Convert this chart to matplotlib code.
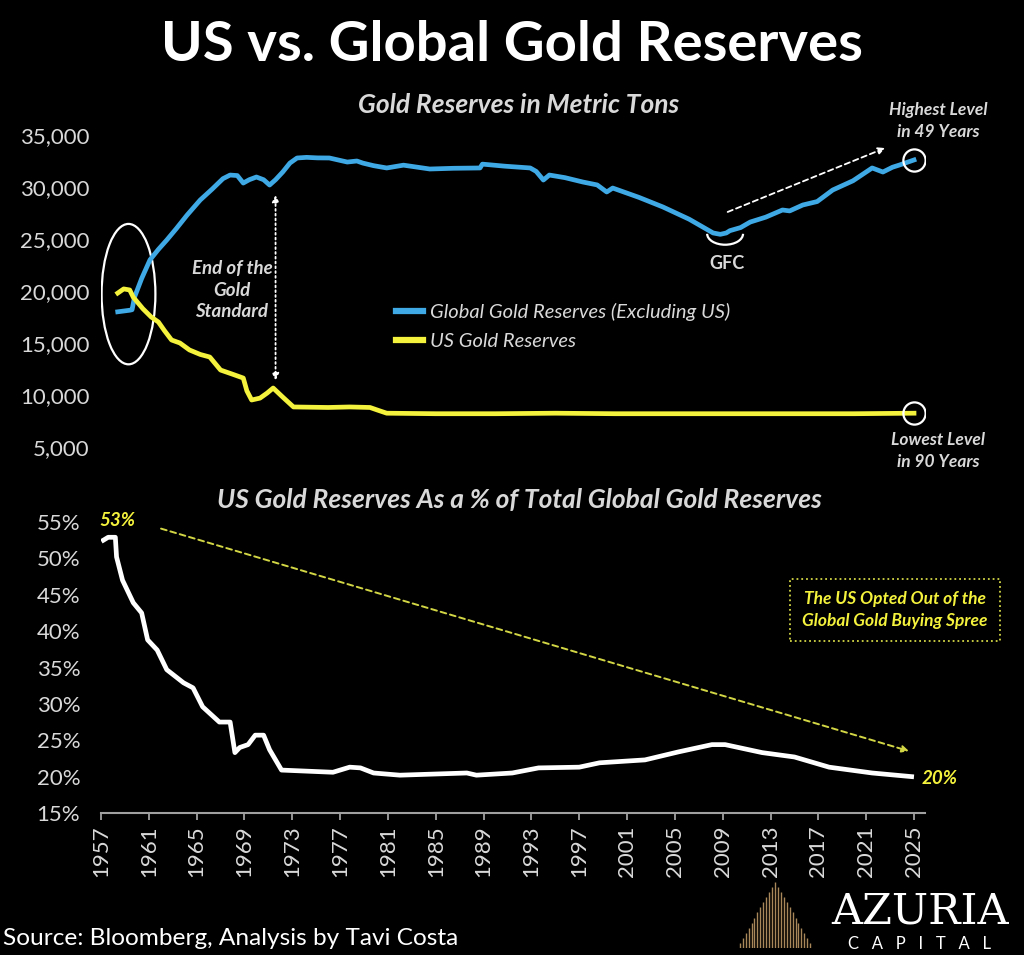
import matplotlib
matplotlib.use("Agg")
import matplotlib.pyplot as plt
from matplotlib.patches import Ellipse, Arc
from matplotlib.ticker import FuncFormatter
import numpy as np

# ---- data ----
global_years = [1958.4, 1959.4, 1959.6, 1959.8, 1960.4, 1961.1, 1961.8, 1962.5, 1963.3, 1964.2,
                1965.3, 1966.3, 1967.2, 1967.8, 1968.4, 1968.9, 1969.4, 1970.0, 1970.6, 1971.1,
                1971.6, 1972.2, 1972.8, 1973.4, 1974.2, 1975.1, 1976.1, 1977.6, 1978.4, 1978.9,
                1979.8, 1980.9, 1982.3, 1984.5, 1986.5, 1988.7, 1988.9, 1990.8, 1992.9, 1993.4,
                1994.0, 1994.5, 1995.8, 1997.3, 1998.5, 1999.3, 1999.8, 2002.0, 2004.0, 2006.2,
                2008.2, 2008.8, 2009.3, 2009.6, 2010.5, 2011.3, 2012.6, 2014.0, 2014.6, 2015.7,
                2016.9, 2018.2, 2019.9, 2021.5, 2022.4, 2023.2, 2023.8, 2025.0]
global_tons = [18000, 18150, 18200, 19400, 21200, 23000, 24000, 24900, 26000, 27300,
               28750, 29800, 30800, 31150, 31100, 30380, 30700, 30960, 30700, 30190,
               30700, 31440, 32300, 32790, 32850, 32800, 32790, 32400, 32500, 32300,
               32050, 31830, 32100, 31730, 31800, 31830, 32200, 32000, 31830, 31500,
               30670, 31150, 30900, 30480, 30200, 29520, 29900, 29000, 28080, 26900,
               25580, 25450, 25580, 25800, 26100, 26630, 27100, 27790, 27700, 28270,
               28600, 29710, 30600, 31830, 31440, 31900, 32120, 32600]

us_years = [1958.4, 1958.9, 1959.4, 1959.7, 1960.5, 1961.2, 1961.8, 1962.3, 1962.9, 1963.6,
            1964.4, 1965.3, 1966.1, 1967.0, 1968.0, 1968.9, 1969.2, 1969.6, 1970.3, 1970.9,
            1971.4, 1972.2, 1973.1, 1976.0, 1977.8, 1979.5, 1980.1, 1980.9, 1985.0, 1990.0,
            1995.0, 2000.0, 2005.0, 2010.0, 2015.0, 2020.0, 2025.0]
us_tons = [19800, 20200, 20100, 19400, 18300, 17500, 17020, 16200, 15290, 15000,
           14330, 13900, 13650, 12400, 12000, 11630, 10400, 9520, 9700, 10190,
           10670, 9800, 8850, 8800, 8850, 8800, 8560, 8250, 8200, 8200,
           8250, 8200, 8200, 8200, 8200, 8200, 8250]

share_years = [1957.2, 1957.6, 1958.2, 1958.3, 1958.8, 1959.7, 1960.4, 1960.9, 1961.7, 1962.5,
               1963.9, 1964.7, 1965.5, 1966.9, 1967.8, 1968.2, 1968.6, 1969.3, 1969.9, 1970.6,
               1971.1, 1972.1, 1976.4, 1977.8, 1978.7, 1979.8, 1982.0, 1987.6, 1988.4, 1991.4,
               1993.6, 1997.0, 1998.7, 2002.5, 2005.3, 2008.1, 2009.2, 2012.3, 2015.0, 2017.9,
               2021.5, 2024.8]
us_share = [52.5, 52.9, 52.9, 50.2, 47.0, 43.9, 42.5, 38.8, 37.4, 34.7,
            32.9, 32.2, 29.6, 27.5, 27.5, 23.3, 24.0, 24.4, 25.7, 25.7,
            23.7, 20.9, 20.6, 21.3, 21.2, 20.5, 20.2, 20.5, 20.2, 20.5,
            21.2, 21.3, 21.9, 22.3, 23.4, 24.4, 24.4, 23.3, 22.7, 21.3,
            20.5, 20.0]

year_ticks = list(range(1957, 2026, 4))
ton_ticks = [5000, 10000, 15000, 20000, 25000, 30000, 35000]
pct_ticks = [15, 20, 25, 30, 35, 40, 45, 50, 55]

BLUE = '#3fa9e5'
YELLOW = '#f4f23c'
OLIVE = '#d2d645'
GREY = '#d9d9d9'
FONT = 'Lato'

W, H = 1024, 955
def fx(px):
    return px / W
def fy(py):
    return 1 - py / H

fig = plt.figure(figsize=(10.24, 9.55), dpi=100, facecolor='black')

# ---- top panel ----
ax1 = fig.add_axes([fx(101), fy(447), fx(925) - fx(101), (447 - 135) / H])
ax1.set_facecolor('black')
ax1.plot(global_years, global_tons, color=BLUE, lw=3.4, solid_joinstyle='round',
         label='Global Gold Reserves (Excluding US)')
ax1.plot(us_years, us_tons, color=YELLOW, lw=3.4, solid_joinstyle='round',
         label='US Gold Reserves')
ax1.set_xlim(1957, 2025.92)
ax1.set_ylim(5000, 35000)
ax1.set_yticks(ton_ticks)
ax1.yaxis.set_major_formatter(FuncFormatter(lambda v, p: f'{v:,.0f}'))
ax1.set_xticks([])
for s in ax1.spines.values():
    s.set_visible(False)
ax1.tick_params(axis='y', length=0, pad=8, labelcolor=GREY, labelsize=16)
for t in ax1.get_yticklabels():
    t.set_fontfamily(FONT)

leg = ax1.legend(loc='upper left', bbox_to_anchor=(fx(378), fy(285)),
                 bbox_transform=fig.transFigure, frameon=False, handlelength=1.35,
                 handletextpad=0.35, labelspacing=0.6, labelcolor=GREY,
                 prop=dict(family=FONT, style='italic', size=14.5))
for line in leg.get_lines():
    line.set_linewidth(4.5)

# ellipse around the crossover
ax1.add_patch(Ellipse((1959.3, 19700), 4.5, 13500, fill=False, ec='white', lw=1.6))
# end-of-gold-standard arrow
ax1.annotate('', xy=(1971.6, 29500), xytext=(1971.6, 11150),
             arrowprops=dict(arrowstyle='<|-|>', color='white', lw=1.3, ls=':',
                             mutation_scale=10))
fig.text(fx(232), fy(290), 'End of the\nGold\nStandard', ha='center', va='center',
         color=GREY, family=FONT, style='italic', weight='bold', size=13.5,
         linespacing=1.3)
# GFC bracket and growth arrow
ax1.add_patch(Arc((2009.2, 25500), 3.0, 2100, theta1=200, theta2=340, color='white', lw=1.6))
fig.text(fx(727), fy(263), 'GFC', ha='center', va='center', color=GREY,
         family=FONT, weight='bold', size=13)
ax1.annotate('', xy=(2022.8, 33850), xytext=(2009.2, 27500),
             arrowprops=dict(arrowstyle='-|>', color='white', lw=1.3, ls=(0, (3, 2)),
                             mutation_scale=10))
ax1.plot(global_years[-1], global_tons[-1], 'o', ms=16, mfc='none', mec='white', mew=1.6)
ax1.plot(us_years[-1], us_tons[-1], 'o', ms=16, mfc='none', mec='white', mew=1.6)
fig.text(fx(938), fy(121), 'Highest Level\nin 49 Years', ha='center', va='center',
         color=GREY, family=FONT, style='italic', weight='bold', size=12.5,
         linespacing=1.45)
fig.text(fx(938), fy(451), 'Lowest Level\nin 90 Years', ha='center', va='center',
         color=GREY, family=FONT, style='italic', weight='bold', size=12.5,
         linespacing=1.45)

# ---- bottom panel ----
ax2 = fig.add_axes([fx(101), fy(813), fx(925) - fx(101), (813 - 522) / H])
ax2.set_facecolor('black')
ax2.plot(share_years, us_share, color='white', lw=3.4, solid_joinstyle='round')
ax2.set_xlim(1957, 2025.92)
ax2.set_ylim(15, 55)
ax2.set_yticks(pct_ticks)
ax2.set_yticklabels([f'{v}%' for v in pct_ticks])
ax2.set_xticks(year_ticks)
ax2.set_xticklabels([str(y) for y in year_ticks], rotation=90)
for name, s in ax2.spines.items():
    s.set_visible(name == 'bottom')
ax2.spines['bottom'].set_color('#a0a0a0')
ax2.spines['bottom'].set_linewidth(1.5)
ax2.tick_params(axis='y', length=0, pad=15, labelcolor=GREY, labelsize=16)
ax2.tick_params(axis='x', length=5, width=1.3, color='#a0a0a0', pad=4,
                labelcolor=GREY, labelsize=16)
for t in ax2.get_yticklabels() + ax2.get_xticklabels():
    t.set_fontfamily(FONT)

ax2.annotate('', xy=(2024.8, 23.4), xytext=(1961.8, 54.2),
             arrowprops=dict(arrowstyle='-|>', color=OLIVE, lw=1.4, ls=(0, (3, 2)),
                             mutation_scale=10))
fig.text(fx(117), fy(521), '53%', ha='center', va='center', color=YELLOW,
         family=FONT, style='italic', weight='bold', size=13.5)
fig.text(fx(940), fy(778), f'{us_share[-1]:.0f}%', ha='center', va='center',
         color=YELLOW, family=FONT, style='italic', weight='bold', size=13.5)
fig.text(fx(895), fy(610), 'The US Opted Out of the\nGlobal Gold Buying Spree',
         ha='center', va='center', color=YELLOW, family=FONT, style='italic',
         weight='bold', size=12.5, linespacing=1.45,
         bbox=dict(boxstyle='square,pad=0.7', fc='black', ec=OLIVE, lw=1.3, ls=':'))

# ---- titles ----
fig.text(0.5, fy(45), 'US vs. Global Gold Reserves', ha='center', va='center',
         color='white', family=FONT, weight='bold', size=40.5)
fig.text(fx(519), fy(105), 'Gold Reserves in Metric Tons', ha='center', va='center',
         color=GREY, family=FONT, style='italic', weight='bold', size=19)
fig.text(fx(519), fy(500), 'US Gold Reserves As a % of Total Global Gold Reserves',
         ha='center', va='center', color=GREY, family=FONT, style='italic',
         weight='bold', size=19)

# ---- footer ----
fig.text(fx(3), fy(938), 'Source: Bloomberg, Analysis by Tavi Costa', ha='left',
         va='center', color='white', family=FONT, size=17.6)
fig.text(fx(920), fy(911), 'AZURIA', ha='center', va='center', color='white',
         family='DejaVu Serif', size=31)
fig.text(fx(920), fy(944), 'C   A   P   I   T   A   L', ha='center', va='center',
         color='white', family=FONT, size=12)
logo = fig.add_axes([fx(735), fy(948), fx(815) - fx(735), (948 - 882) / H])
logo.set_axis_off()
xs = np.linspace(-1, 1, 27)
logo.vlines(xs, 0, 1 - np.abs(xs), color='#a8875a', lw=1.0)
logo.set_xlim(-1.05, 1.05)
logo.set_ylim(0, 1)

fig.savefig('out.png', dpi=100, facecolor='black')
